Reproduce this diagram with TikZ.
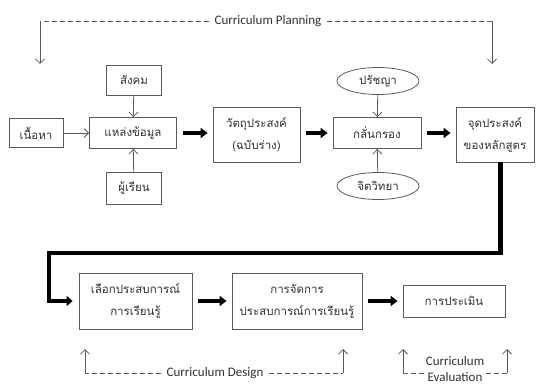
\documentclass[tikz,border=0pt]{standalone}
\usepackage{fontspec}
\setmainfont{Carlito}
\newfontfamily\thaifont[Script=Thai]{Loma}
\usetikzlibrary{arrows.meta, shapes.geometric}
\definecolor{linegray}{HTML}{5A5A5A}
\definecolor{textgray}{HTML}{303030}

\begin{document}
\begin{tikzpicture}[x=1pt, y=-1pt,
    box/.style={draw=linegray, line width=0.8pt, text=textgray, align=center, inner sep=0pt,
      font=\thaifont\fontsize{11.5}{22}\selectfont},
    oval/.style={box, ellipse},
    thin arrow/.style={draw=linegray, line width=0.8pt, -{Straight Barb[length=4.5pt, width=9pt]}},
    thick arrow/.style={line width=3.5pt, -{Triangle[length=7pt, width=10pt]}, shorten <=6pt, shorten >=5pt},
    rail/.style={line width=4.5pt, -{Triangle[length=6pt, width=10pt]}, shorten >=6pt},
    phase/.style={draw=linegray, line width=0.8pt, dash pattern=on 5pt off 3pt},
    phase label/.style={text=textgray, inner sep=5pt, align=center, font=\fontsize{13}{16}\selectfont}]
  \useasboundingbox (0,0) rectangle (536,385);

  %% *** Sources ***
  \node[box, minimum width=54pt, minimum height=29pt] (content) at (36,133) {เนื้อหา};
  \node[box, minimum width=87pt, minimum height=31pt] (source) at (133,133) {แหล่งข้อมูล};
  \node[box, minimum width=55pt, minimum height=30pt] (society) at (134,80) {สังคม};
  \node[box, minimum width=55pt, minimum height=32pt] (learner) at (134,188) {ผู้เรียน};
  \draw[thin arrow] (content) -- (source);
  \draw[thin arrow] (society) -- (source);
  \draw[thin arrow] (learner) -- (source);

  %% *** Objectives ***
  \node[box, minimum width=87pt, minimum height=55pt] (draft) at (256.5,134.5) {วัตถุประสงค์\\(ฉบับร่าง)};
  \node[box, minimum width=88pt, minimum height=31pt] (screen) at (377,133) {กลั่นกรอง};
  \node[oval, minimum width=82pt, minimum height=27pt] (philosophy) at (378,81) {ปรัชญา};
  \node[oval, minimum width=82pt, minimum height=27pt] (psychology) at (378,186) {จิตวิทยา};
  \node[box, minimum width=78pt, minimum height=55pt] (goal) at (495,134.5) {จุดประสงค์\\ของหลักสูตร};
  \draw[thin arrow] (philosophy) -- (screen);
  \draw[thin arrow] (psychology) -- (screen);
  \draw[thick arrow] (source.east) -- (source.east -| draft.west);
  \draw[thick arrow] (draft.east |- screen.west) -- (screen.west);
  \draw[thick arrow] (screen.east) -- (screen.east -| goal.west);

  %% *** Experiences ***
  \node[box, minimum width=113pt, minimum height=56pt] (select) at (135.5,301) {เลือกประสบการณ์\\การเรียนรู้};
  \node[box, minimum width=130pt, minimum height=56pt] (organize) at (297,301) {การจัดการ\\ประสบการณ์การเรียนรู้};
  \node[box, minimum width=102pt, minimum height=32pt] (evaluate) at (454,301) {การประเมิน};
  \coordinate (railL) at (49,253);
  \draw[rail] ([xshift=5.5pt]goal.south) |- (railL) |- (select.west);
  \draw[thick arrow] (select) -- (organize);
  \draw[thick arrow] (organize) -- (evaluate);

  %% *** Phases ***
  \node[phase label] (planning) at (268,21) {Curriculum Planning};
  \coordinate (planL) at (40,21);
  \coordinate (planLtip) at (40,64);
  \coordinate (planR) at (492,21);
  \coordinate (planRtip) at (492,64);
  \draw[phase] (planning.west) -- (planL);
  \draw[phase] (planning.east) -- (planR);
  \draw[thin arrow] (planL) -- (planLtip);
  \draw[thin arrow] (planR) -- (planRtip);

  \node[phase label] (design) at (215,373) {Curriculum Design};
  \coordinate (desL) at (85,373);
  \coordinate (desLtip) at (85,349);
  \coordinate (desR) at (343,373);
  \coordinate (desRtip) at (343,349);
  \draw[phase] (design.west) -- (desL);
  \draw[phase] (design.east) -- (desR);
  \draw[thin arrow] (desL) -- (desLtip);
  \draw[thin arrow] (desR) -- (desRtip);

  \node[phase label, inner sep=2pt] (evaluation) at (455,369) {Curriculum\\Evaluation};
  \coordinate (evalL) at (403,373);
  \coordinate (evalLtip) at (403,349);
  \coordinate (evalR) at (507,373);
  \coordinate (evalRtip) at (507,349);
  \draw[phase] (evalL -| evaluation.west) -- (evalL);
  \draw[phase] (evalR -| evaluation.east) -- (evalR);
  \draw[thin arrow] (evalL) -- (evalLtip);
  \draw[thin arrow] (evalR) -- (evalRtip);
\end{tikzpicture}
\end{document}
